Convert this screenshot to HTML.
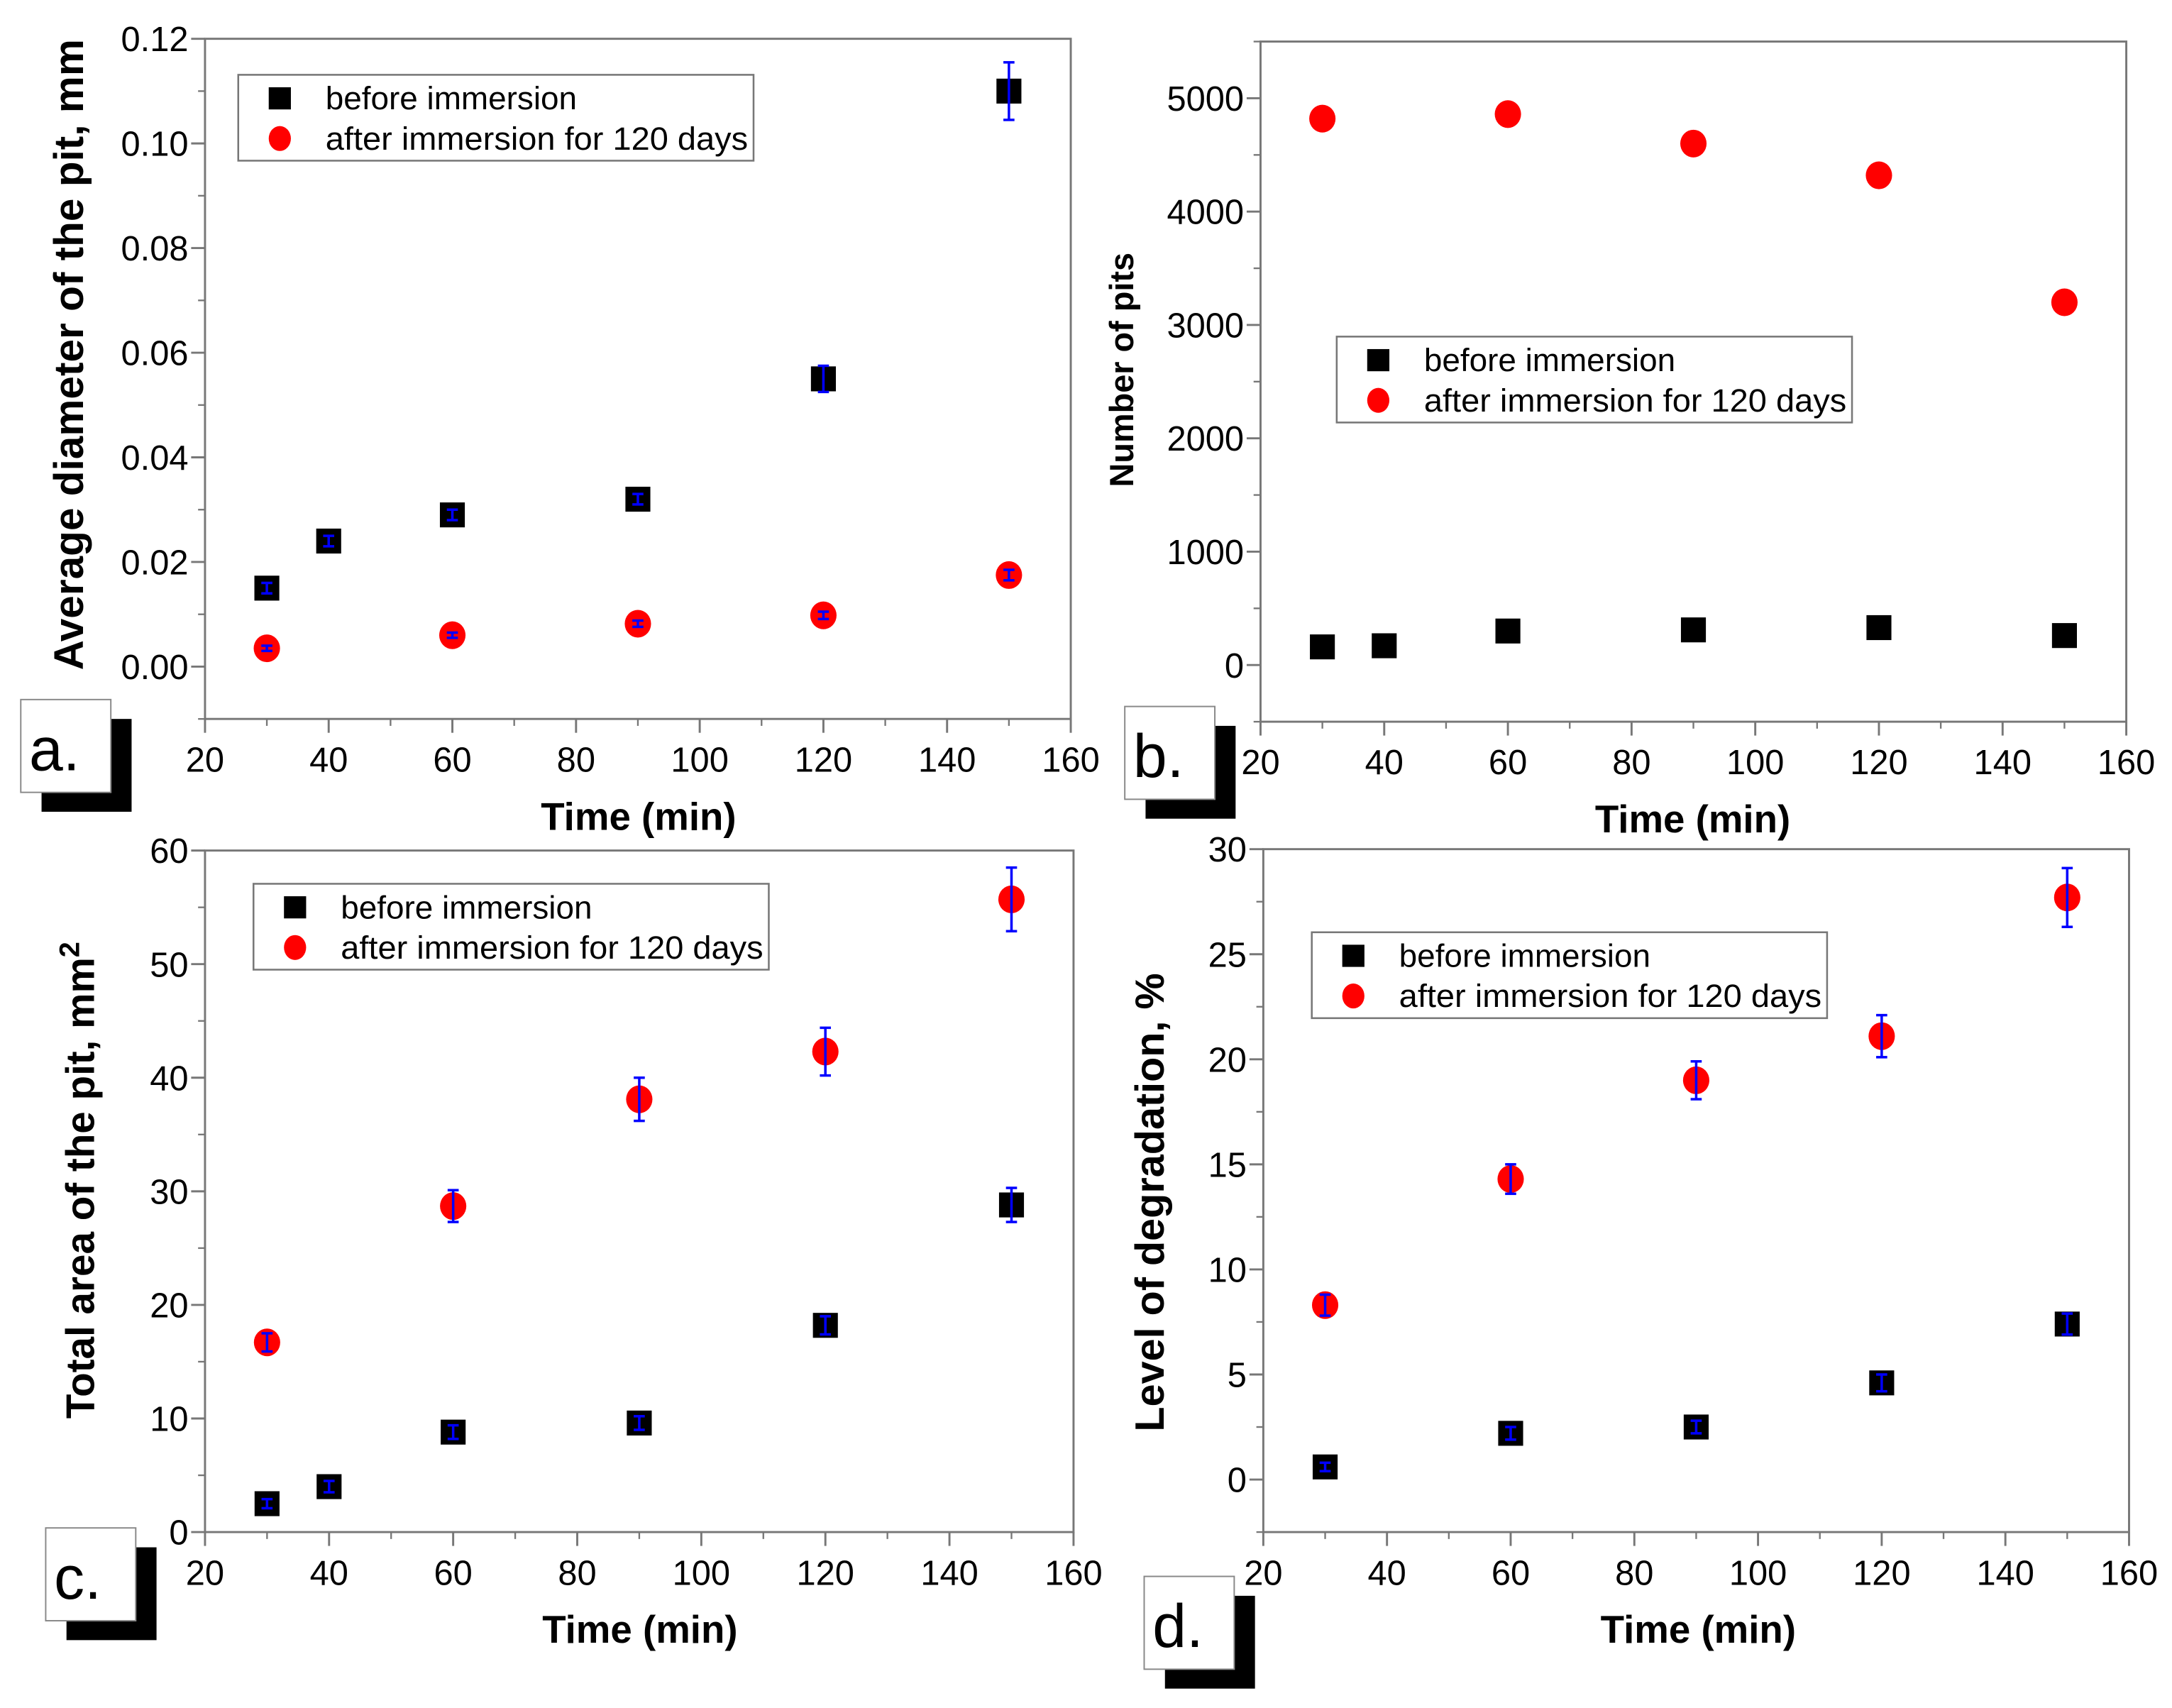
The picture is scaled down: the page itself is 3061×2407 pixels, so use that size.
<!DOCTYPE html>
<html><head><meta charset="utf-8"><style>
html,body{margin:0;padding:0;background:#fff;}
svg{display:block;}
text{font-family:"Liberation Sans",Arial,sans-serif;fill:#000;}
</style></head>
<body>
<svg id="fig" width="3061" height="2407" viewBox="0 0 1568 1233" preserveAspectRatio="none" xmlns="http://www.w3.org/2000/svg"></svg>
<script>
// ---- data ----
const timesA_before = [30, 40, 60, 90, 120, 150];
const diamBefore = [0.015, 0.024, 0.029, 0.032, 0.055, 0.110];
const diamBeforeErr = [0.001, 0.001, 0.001, 0.001, 0.0025, 0.0055];
const timesA_after = [30, 60, 90, 120, 150];
const diamAfter = [0.0035, 0.006, 0.0082, 0.0098, 0.0175];
const diamAfterErr = [0.0005, 0.0005, 0.0006, 0.0007, 0.001];

const timesB_before = [30, 40, 60, 90, 120, 150];
const pitsBefore = [160, 170, 300, 310, 330, 260];
const timesB_after = [30, 60, 90, 120, 150];
const pitsAfter = [4820, 4860, 4600, 4320, 3200];

const timesC_before = [30, 40, 60, 90, 120, 150];
const areaBefore = [2.5, 4.0, 8.8, 9.6, 18.2, 28.8];
const areaBeforeErr = [0.4, 0.5, 0.6, 0.6, 0.8, 1.5];
const timesC_after = [30, 60, 90, 120, 150];
const areaAfter = [16.7, 28.7, 38.1, 42.3, 55.7];
const areaAfterErr = [0.8, 1.4, 1.9, 2.1, 2.8];

const timesD_before = [30, 60, 90, 120, 150];
const degBefore = [0.6, 2.2, 2.5, 4.6, 7.4];
const degBeforeErr = [0.2, 0.3, 0.3, 0.4, 0.5];
const timesD_after = [30, 60, 90, 120, 150];
const degAfter = [8.3, 14.3, 19.0, 21.1, 27.7];
const degAfterErr = [0.5, 0.7, 0.9, 1.0, 1.4];

const xTicks = [20, 40, 60, 80, 100, 120, 140, 160];
const yTicksA = [0, 0.02, 0.04, 0.06, 0.08, 0.10, 0.12];
const yLabelsA = ["0.00","0.02","0.04","0.06","0.08","0.10","0.12"];
const yTicksB = [0, 1000, 2000, 3000, 4000, 5000];
const yTicksC = [0, 10, 20, 30, 40, 50, 60];
const yTicksD = [0, 5, 10, 15, 20, 25, 30];

const NS = "http://www.w3.org/2000/svg";
const svg = document.getElementById('fig');
function el(tag, attrs, parent, txt) {
  const e = document.createElementNS(NS, tag);
  for (const k in attrs) e.setAttribute(k, attrs[k]);
  if (txt !== undefined) e.textContent = txt;
  (parent || svg).appendChild(e);
  return e;
}

function panel(p) {
  const g = el('g', {});
  
  
  const sx = v => p.x0 + (v - 20) / 140 * (p.x1 - p.x0);
  const sy = v => p.yb - (v - p.ymin) / (p.ymax - p.ymin) * (p.yb - p.yt);
  const frame = el('rect', {x:p.x0, y:p.yt, width:p.x1-p.x0, height:p.yb-p.yt, fill:'none', stroke:'#777', 'stroke-width':1.5}, g);
  
  
  xTicks.forEach((t, i) => {
    const X = sx(t);
    el('line', {x1:X, x2:X, y1:p.yb, y2:p.yb+10, stroke:'#777', 'stroke-width':1.5}, g);
    if (i < xTicks.length - 1) { const Xm = sx(t + 10); el('line', {x1:Xm, x2:Xm, y1:p.yb, y2:p.yb+5, stroke:'#777', 'stroke-width':1.2}, g); }
    const lb = el('text', {x:X, y:p.yb+38, 'font-size':25, 'text-anchor':'middle'}, g, String(t));
    
    
  });
  p.yTicks.forEach((t, i) => {
    const Y = sy(t);
    el('line', {x1:p.x0-10, x2:p.x0, y1:Y, y2:Y, stroke:'#777', 'stroke-width':1.5}, g);
    const step = p.yTicks[1] - p.yTicks[0];
    [t - step/2, t + step/2].forEach(m => {
      if (m >= p.ymin && m <= p.ymax && (i === 0 || m > t)) { const Ym = sy(m); el('line', {x1:p.x0-5, x2:p.x0, y1:Ym, y2:Ym, stroke:'#777', 'stroke-width':1.2}, g); }
    });
    const lb = el('text', {x:p.x0-12, y:Y+9, 'font-size':25, 'text-anchor':'end'}, g, p.yLabels ? p.yLabels[i] : String(t));
    
    
  });
  const xt = el('text', {x:p.xtx, y:p.xty, 'font-size':28, 'font-weight':'bold', 'text-anchor':'middle'}, g, 'Time (min)');
  
  
  const yt = el('text', {x:0, y:0, 'font-size':p.ytSize, 'font-weight':'bold', 'text-anchor':'middle', transform:`translate(${p.ytx},${p.yty}) rotate(-90)`}, g);
  
  
  yt.textContent = p.ytitle;
  if (p.sup) { el('tspan', {'font-size':p.ytSize*0.7, dy:-11}, yt, p.sup); }
  function series(xs, ys, errs, shape, nm) {
    xs.forEach((xv, i) => {
      const X = sx(xv), Y = sy(ys[i]);
      let m;
      if (shape === 'sq') m = el('rect', {x:X-9, y:Y-9, width:18, height:18, fill:'#000'}, g);
      else m = el('ellipse', {cx:X, cy:Y, rx:9.5, ry:10, fill:'#f00'}, g);
      
      
      if (errs) {
        const y1 = sy(ys[i] + errs[i]), y2 = sy(ys[i] - errs[i]);
        el('line', {x1:X, x2:X, y1:y1, y2:y2, stroke:'#00f', 'stroke-width':1.8}, g);
        el('line', {x1:X-4, x2:X+4, y1:y1, y2:y1, stroke:'#00f', 'stroke-width':1.8}, g);
        el('line', {x1:X-4, x2:X+4, y1:y2, y2:y2, stroke:'#00f', 'stroke-width':1.8}, g);
      }
    });
  }
  series(p.bx, p.by, p.be, 'sq', 'before');
  series(p.ax, p.ay, p.ae, 'ci', 'after');
  const lg = el('g', {}, g);
  
  
  el('rect', {x:p.lx, y:p.ly, width:372, height:62, fill:'#fff', stroke:'#777', 'stroke-width':1.3}, lg);
  el('rect', {x:p.lx+22, y:p.ly+9, width:16, height:16, fill:'#000'}, lg);
  el('ellipse', {cx:p.lx+30, cy:p.ly+46, rx:8, ry:9, fill:'#f00'}, lg);
  el('text', {x:p.lx+63, y:p.ly+25, 'font-size':23.5}, lg, 'before immersion');
  el('text', {x:p.lx+63, y:p.ly+54, 'font-size':23.5, textLength:305, lengthAdjust:'spacingAndGlyphs'}, lg, 'after immersion for 120 days');
  const pl = el('g', {}, g);
  
  
  el('rect', {x:p.px+15, y:p.py+14, width:65, height:67, fill:'#000'}, pl);
  el('rect', {x:p.px, y:p.py, width:65, height:67, fill:'#fff', stroke:'#888', 'stroke-width':1}, pl);
  el('text', {x:p.px+6, y:p.py+51, 'font-size':44}, pl, p.letter);
}

panel({name:'panel-a', x0:148, x1:773, yt:28, yb:519, ymin:-0.01, ymax:0.12, yTicks:yTicksA, yLabels:yLabelsA,
  xtx:461, xty:599, ytx:60, yty:256, ytSize:30, ytitle:'Average diameter of the pit, mm',
  bx:timesA_before, by:diamBefore, be:diamBeforeErr, ax:timesA_after, ay:diamAfter, ae:diamAfterErr,
  lx:172, ly:54, px:15, py:505, letter:'a.'});
panel({name:'panel-b', x0:910, x1:1535, yt:30, yb:521, ymin:-500, ymax:5500, yTicks:yTicksB,
  xtx:1222, xty:601, ytx:818, yty:267, ytSize:24, ytitle:'Number of pits',
  bx:timesB_before, by:pitsBefore, be:null, ax:timesB_after, ay:pitsAfter, ae:null,
  lx:965, ly:243, px:812, py:510, letter:'b.'});
panel({name:'panel-c', x0:148, x1:775, yt:614, yb:1106, ymin:0, ymax:60, yTicks:yTicksC,
  xtx:462, xty:1186, ytx:68, yty:852, ytSize:29, ytitle:'Total area of the pit, mm', sup:'2',
  bx:timesC_before, by:areaBefore, be:areaBeforeErr, ax:timesC_after, ay:areaAfter, ae:areaAfterErr,
  lx:183, ly:638, px:33, py:1103, letter:'c.'});
panel({name:'panel-d', x0:912, x1:1537, yt:613, yb:1106, ymin:-2.5, ymax:30, yTicks:yTicksD,
  xtx:1226, xty:1186, ytx:840, yty:868, ytSize:29.5, ytitle:'Level of degradation, %',
  bx:timesD_before, by:degBefore, be:degBeforeErr, ax:timesD_after, ay:degAfter, ae:degAfterErr,
  lx:947, ly:673, px:826, py:1138, letter:'d.'});
</script>
</body></html>
